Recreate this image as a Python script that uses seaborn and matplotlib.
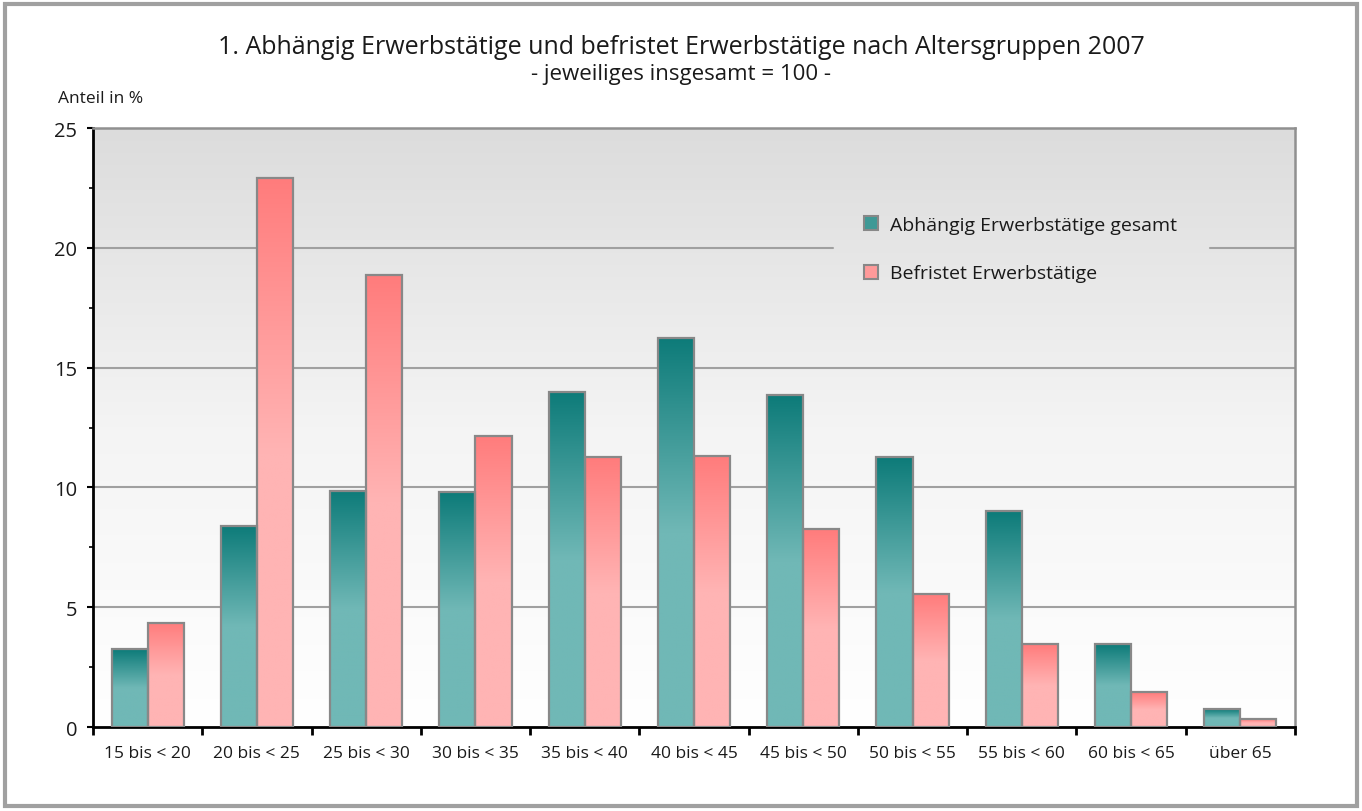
import numpy as np
import pandas as pd
import matplotlib
matplotlib.use("Agg")
import matplotlib.pyplot as plt
import seaborn as sns
from matplotlib.colors import LinearSegmentedColormap
from matplotlib.patches import Patch, Rectangle

# Daten (Anteil in %, jeweiliges insgesamt = 100)
altersgruppen = ["15 bis < 20", "20 bis < 25", "25 bis < 30", "30 bis < 35",
                 "35 bis < 40", "40 bis < 45", "45 bis < 50", "50 bis < 55",
                 "55 bis < 60", "60 bis < 65", "über 65"]
abhaengig_gesamt = [3.25, 8.4, 9.85, 9.8, 14.0, 16.25, 13.85, 11.25, 9.0, 3.45, 0.75]
befristet = [4.35, 22.9, 18.85, 12.15, 11.25, 11.3, 8.25, 5.55, 3.45, 1.45, 0.33]
serien = ["Abhängig Erwerbstätige gesamt", "Befristet Erwerbstätige"]

df = pd.DataFrame({
    "gruppe": altersgruppen * 2,
    "serie": [serien[0]] * len(altersgruppen) + [serien[1]] * len(altersgruppen),
    "wert": abhaengig_gesamt + befristet,
})

sns.set_style("white")
plt.rcParams["font.family"] = ["Open Sans", "DejaVu Sans"]
plt.rcParams["text.color"] = "#1a1a1a"
plt.rcParams["xtick.color"] = "#1a1a1a"
plt.rcParams["ytick.color"] = "#1a1a1a"

teal_top, teal_bot = "#0d7b79", "#70b8b6"
pink_top, pink_bot = "#ff7c7c", "#ffb4b4"

fig = plt.figure(figsize=(13.62, 8.12), dpi=100)
ax = fig.add_axes([0.0683, 0.1034, 0.8825, 0.7377])

ax = sns.barplot(data=df, x="gruppe", y="wert", hue="serie",
                 palette=[teal_bot, pink_bot], width=0.66, ax=ax,
                 edgecolor="#888888", linewidth=1.6, legend=False, zorder=3)

# Hintergrundverlauf der Zeichenfläche
bg = np.linspace(1, 0, 256).reshape(-1, 1)
bg_cmap = LinearSegmentedColormap.from_list("bg", ["#ffffff", "#f4f4f4", "#dcdcdc"])
ax.imshow(bg, cmap=bg_cmap, extent=[0, 1, 0, 1], transform=ax.transAxes,
          aspect="auto", zorder=0, origin="upper")

# Farbverlauf in den Balken
cm_teal = LinearSegmentedColormap.from_list("teal", [teal_bot, teal_bot, teal_top])
cm_pink = LinearSegmentedColormap.from_list("pink", [pink_bot, pink_bot, pink_top])
grad = np.linspace(0, 1, 256).reshape(-1, 1)
for cont, cmap in zip(ax.containers, [cm_teal, cm_pink]):
    for bar in cont:
        x0, w, h = bar.get_x(), bar.get_width(), bar.get_height()
        im = ax.imshow(grad, cmap=cmap, extent=[x0, x0 + w, 0, h],
                       aspect="auto", origin="lower", zorder=2.9)
        im.set_clip_path(bar)
        bar.set_facecolor("none")

ax.set_xlim(-0.5, len(altersgruppen) - 0.5)
ax.set_ylim(0, 25)

# Gitterlinien (bei 20 von der Legende unterbrochen)
for yv in [5, 10, 15]:
    ax.axhline(yv, color="#a0a0a0", linewidth=1.5, zorder=1)
ax.axhline(20, xmin=0, xmax=0.6156, color="#a0a0a0", linewidth=1.5, zorder=1)
ax.axhline(20, xmin=0.929, xmax=1, color="#a0a0a0", linewidth=1.5, zorder=1)

ax.set_yticks([0, 5, 10, 15, 20, 25])
ax.set_yticks(np.arange(2.5, 25, 5), minor=True)
ax.set_xticks(range(len(altersgruppen)))
ax.set_xticklabels(altersgruppen, fontsize=12.5)
ax.set_xticks(np.arange(-0.5, len(altersgruppen)), minor=True)
ax.tick_params(which="both", bottom=True, left=True)
ax.tick_params(axis="x", which="major", length=0, pad=13)
ax.tick_params(axis="x", which="minor", direction="out", length=6, width=2, color="black")
ax.tick_params(axis="y", which="major", direction="out", length=4.5, width=1.5,
               color="black", labelsize=14.5, pad=7)
ax.tick_params(axis="y", which="minor", direction="out", length=3, width=1.2, color="black")
ax.set_xlabel("")
ax.set_ylabel("")

for side in ["left", "bottom"]:
    ax.spines[side].set_color("black")
    ax.spines[side].set_linewidth(2)
for side in ["top", "right"]:
    ax.spines[side].set_color("#909090")
    ax.spines[side].set_linewidth(1.8)
    ax.spines[side].set_visible(True)

handles = [Patch(facecolor="#3f9996", edgecolor="#888888", linewidth=1.5),
           Patch(facecolor="#ff9a9a", edgecolor="#888888", linewidth=1.5)]
leg = ax.legend(handles, serien, loc="center left", bbox_to_anchor=(0.6156, 0.798),
                frameon=False, fontsize=14, handlelength=0.72, handleheight=0.72,
                handletextpad=0.62, labelspacing=1.58, borderpad=1.6,
                borderaxespad=0)
leg.set_zorder(5)

fig.text(0.50, 0.942, "1. Abhängig Erwerbstätige und befristet Erwerbstätige nach Altersgruppen 2007",
         ha="center", va="center", fontsize=18)
fig.text(0.50, 0.908, "- jeweiliges insgesamt = 100 -", ha="center", va="center", fontsize=16)
fig.text(0.0426, 0.878, "Anteil in %", ha="left", va="center", fontsize=12.5)

# Rahmen um die Grafik
fig.patches.append(Rectangle((0.004, 0.006), 0.992, 0.988, transform=fig.transFigure,
                             fill=False, edgecolor="#a0a0a0", linewidth=3))

fig.savefig("out.png", dpi=100)
